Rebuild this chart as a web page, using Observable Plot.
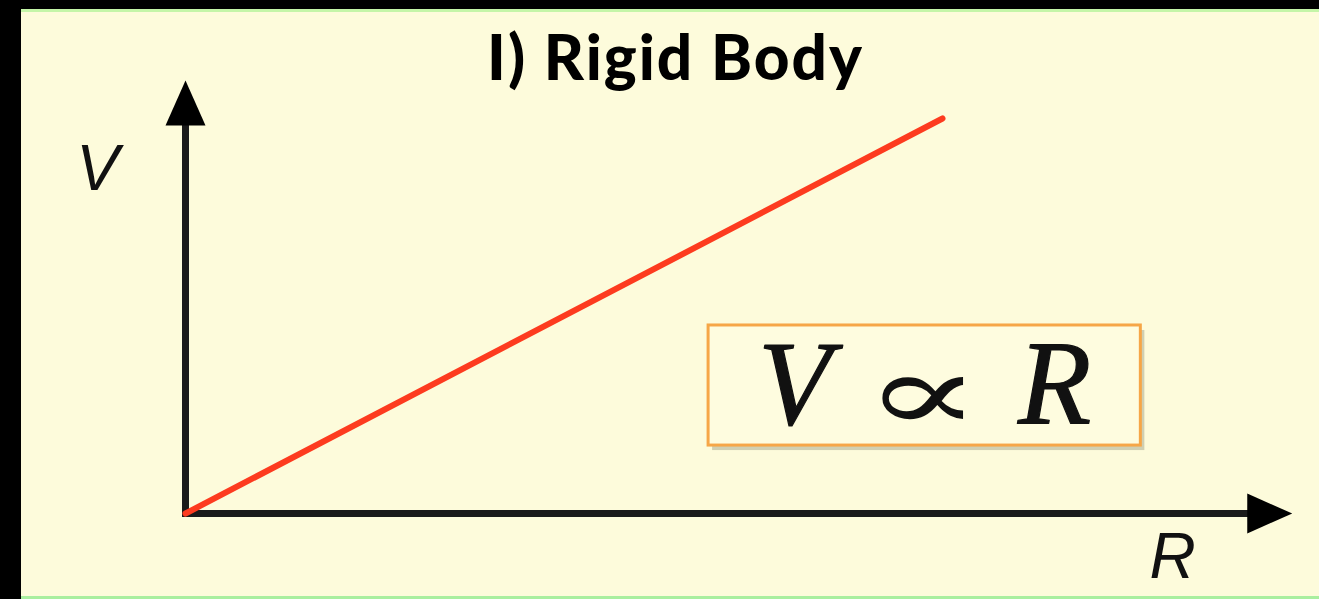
<!DOCTYPE html>
<html>
<head>
<meta charset="utf-8">
<script src="https://cdn.jsdelivr.net/npm/d3@7"></script>
<script src="https://cdn.jsdelivr.net/npm/@observablehq/plot@0.6"></script>
<style>
  html, body { margin: 0; padding: 0; background: #000; width: 1319px; height: 599px; overflow: hidden; }
  #page { position: absolute; left: 21px; top: 9px; width: 1298px; height: 590px; background: #fdfbdb;
          border-top: 3px solid #c4f5a8; border-bottom: 3px solid #a9ef9f; box-sizing: border-box; }
  #title { position: absolute; left: 0; top: 19px; width: 1351px; text-align: center; line-height: 1.2;
           font-family: Lato, "Open Sans", sans-serif; font-weight: 900; font-size: 62px; letter-spacing: 2px; color: #000; }
  #chart { position: absolute; left: 0; top: 0; }
  #chart g.axisline, #chart g.head { filter: blur(0.6px); }
  #chart g.formula text, #chart g.prop text { filter: blur(0.4px); }
</style>
</head>
<body>
<div id="page"></div>
<div id="title">I) Rigid Body</div>
<div id="chart"></div>
<script>
// Series: V proportional to R
const R = [0, 1];
const V = [0, 1];
// Axis extents (arrow tips) in data units
const axisR = [0, 1.462];
const axisV = [0, 1.096];
// Axis labels
const axisLabels = ["V", "R"];
const labelR = [-0.116, 1.304];
const labelV = [0.871, -0.111];
// Formula box: V ∝ R
const formulaParts = ["V", "\u221D", "R"];
const boxR = [0.691, 1.262];
const boxV = [0.172, 0.476];

const line = R.map((r, i) => ({R: r, V: V[i]}));
const labels = axisLabels.map((t, i) => ({t, R: labelR[i], V: labelV[i]}));
const box = [{x1: boxR[0], x2: boxR[1], y1: boxV[0], y2: boxV[1]}];
const cx = (boxR[0] + boxR[1]) / 2, cy = (boxV[0] + boxV[1]) / 2;

// triangle symbol with its tip at the anchor, pointing up
const head = {
  draw(context) {
    context.moveTo(0, 0);
    context.lineTo(20, 45);
    context.lineTo(-20, 45);
    context.closePath();
  }
};

const formulaText = (t, dx, opts) =>
  Plot.text([{t, R: cx, V: cy}], {x: "R", y: "V", text: "t", dx, fill: "#111", ...opts});

const plot = Plot.plot({
  width: 1319,
  height: 599,
  margin: 0,
  style: {background: "transparent", overflow: "visible"},
  x: {domain: [0, 1], range: [185, 942], axis: null},
  y: {domain: [0, 1], range: [513, 118], axis: null},
  marks: [
    // axes
    Plot.line([{R: axisR[0], V: 0}, {R: axisR[1] - 0.05, V: 0}], {x: "R", y: "V", stroke: "#1a1a1a", strokeWidth: 7, strokeLinecap: "square", className: "axisline"}),
    Plot.line([{R: 0, V: axisV[0]}, {R: 0, V: axisV[1] - 0.1}], {x: "R", y: "V", stroke: "#1a1a1a", strokeWidth: 7, strokeLinecap: "square", className: "axisline"}),
    Plot.dot([{R: 0, V: axisV[1]}], {x: "R", y: "V", symbol: head, fill: "#000", stroke: "none", className: "head"}),
    Plot.dot([{R: axisR[1], V: 0}], {x: "R", y: "V", symbol: head, rotate: 90, fill: "#000", stroke: "none", className: "head"}),
    // the V ∝ R line
    Plot.line(line, {x: "R", y: "V", stroke: "#fd3b1f", strokeWidth: 6, strokeLinecap: "round"}),
    // axis labels
    Plot.text(labels, {x: "R", y: "V", text: "t", fontSize: 64, fontStyle: "italic", fontFamily: "Liberation Sans, Arial, sans-serif", fill: "#111"}),
    // formula box: shadow, box, text
    Plot.rect(box, {x1: "x1", x2: "x2", y1: "y1", y2: "y2", fill: "#9a9a80", fillOpacity: 0.45, dx: 4, dy: 5}),
    Plot.rect(box, {x1: "x1", x2: "x2", y1: "y1", y2: "y2", fill: "#fefcdf", stroke: "#f6a647", strokeWidth: 3}),
    formulaText(formulaParts[0], -130, {fontSize: 120, fontStyle: "italic", fontFamily: "Liberation Serif, serif", stroke: "#111", strokeWidth: 1.2, className: "formula"}),
    formulaText(formulaParts[1], -2, {fontSize: 100, dy: 10, fontFamily: "DejaVu Serif, serif", className: "prop"}),
    formulaText(formulaParts[2], 130, {fontSize: 120, fontStyle: "italic", fontFamily: "Liberation Serif, serif", stroke: "#111", strokeWidth: 1.2, className: "formula"})
  ]
});
// widen the proportionality glyph to match the reference's flat, wide ∝
d3.select(plot).selectAll("g.prop text").attr("transform", function() {
  return (this.getAttribute("transform") || "") + " scale(1.75,1.1)";
});
document.getElementById("chart").appendChild(plot);
</script>
</body>
</html>
